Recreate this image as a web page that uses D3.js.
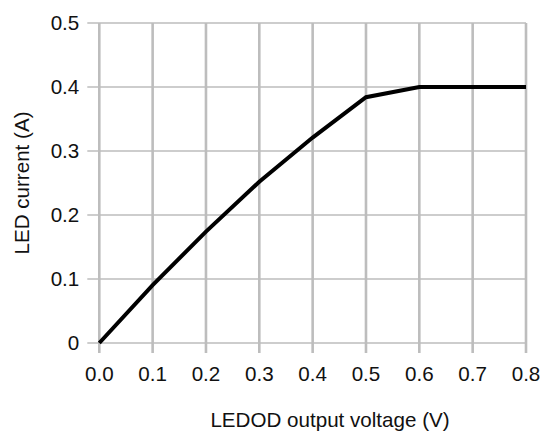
<!DOCTYPE html>
<html>
<head>
<meta charset="utf-8">
<script src="https://cdn.jsdelivr.net/npm/d3@7"></script>
<style>
  html, body { margin: 0; padding: 0; background: #fff; }
  svg { display: block; }
  text { font-family: "Liberation Sans", Arial, sans-serif; fill: #111; }
</style>
</head>
<body>
<div id="chart"></div>
<script>
const voltage = [0.0, 0.1, 0.2, 0.3, 0.4, 0.5, 0.6, 0.7, 0.8];
const current = [0.0, 0.0905, 0.174, 0.252, 0.321, 0.384, 0.4, 0.4, 0.4];
const xTicks = [0.0, 0.1, 0.2, 0.3, 0.4, 0.5, 0.6, 0.7, 0.8];
const xTickLabels = ["0.0", "0.1", "0.2", "0.3", "0.4", "0.5", "0.6", "0.7", "0.8"];
const yTicks = [0, 0.1, 0.2, 0.3, 0.4, 0.5];
const yTickLabels = ["0", "0.1", "0.2", "0.3", "0.4", "0.5"];
const xTitle = "LEDOD output voltage (V)";
const yTitle = "LED current (A)";

const W = 542, H = 432;
const margin = { left: 99.3, right: 16, top: 23, bottom: 89 };
const svg = d3.select("#chart").append("svg").attr("width", W).attr("height", H);

const x = d3.scaleLinear().domain([0, 0.8]).range([margin.left, W - margin.right]);
const y = d3.scaleLinear().domain([0, 0.5]).range([H - margin.bottom, margin.top]);

const fs = 20.6;
const gridColor = "#bdbdbd";

// horizontal grid lines (extend left as ticks)
svg.append("g").selectAll("line").data(yTicks).join("line")
  .attr("x1", x(0) - 12).attr("x2", x(0.8))
  .attr("y1", d => y(d)).attr("y2", d => y(d))
  .attr("stroke", gridColor).attr("stroke-width", 1.6);

// vertical grid lines (extend below as ticks)
svg.append("g").selectAll("line").data(xTicks).join("line")
  .attr("x1", d => x(d)).attr("x2", d => x(d))
  .attr("y1", y(0.5)).attr("y2", y(0) + 10)
  .attr("stroke", gridColor).attr("stroke-width", 2.6);

// y tick labels
svg.append("g").selectAll("text").data(yTicks).join("text")
  .attr("x", x(0) - 20).attr("y", d => y(d))
  .attr("dy", "0.35em")
  .attr("text-anchor", "end")
  .attr("font-size", fs)
  .text((d, i) => yTickLabels[i]);

// x tick labels
svg.append("g").selectAll("text").data(xTicks).join("text")
  .attr("x", d => x(d)).attr("y", y(0) + 38)
  .attr("text-anchor", "middle")
  .attr("font-size", fs)
  .text((d, i) => xTickLabels[i]);

// line
const line = d3.line().x((d, i) => x(voltage[i])).y(d => y(d));
svg.append("path").datum(current)
  .attr("d", line)
  .attr("fill", "none")
  .attr("stroke", "#000")
  .attr("stroke-width", 4)
  .attr("stroke-linejoin", "miter");

// axis titles
svg.append("text")
  .attr("x", 330).attr("y", 426.5)
  .attr("text-anchor", "middle")
  .attr("font-size", fs)
  .text(xTitle);

svg.append("text")
  .attr("transform", `translate(29,${(y(0) + y(0.5)) / 2}) rotate(-90)`)
  .attr("text-anchor", "middle")
  .attr("font-size", fs)
  .text(yTitle);
</script>
</body>
</html>
